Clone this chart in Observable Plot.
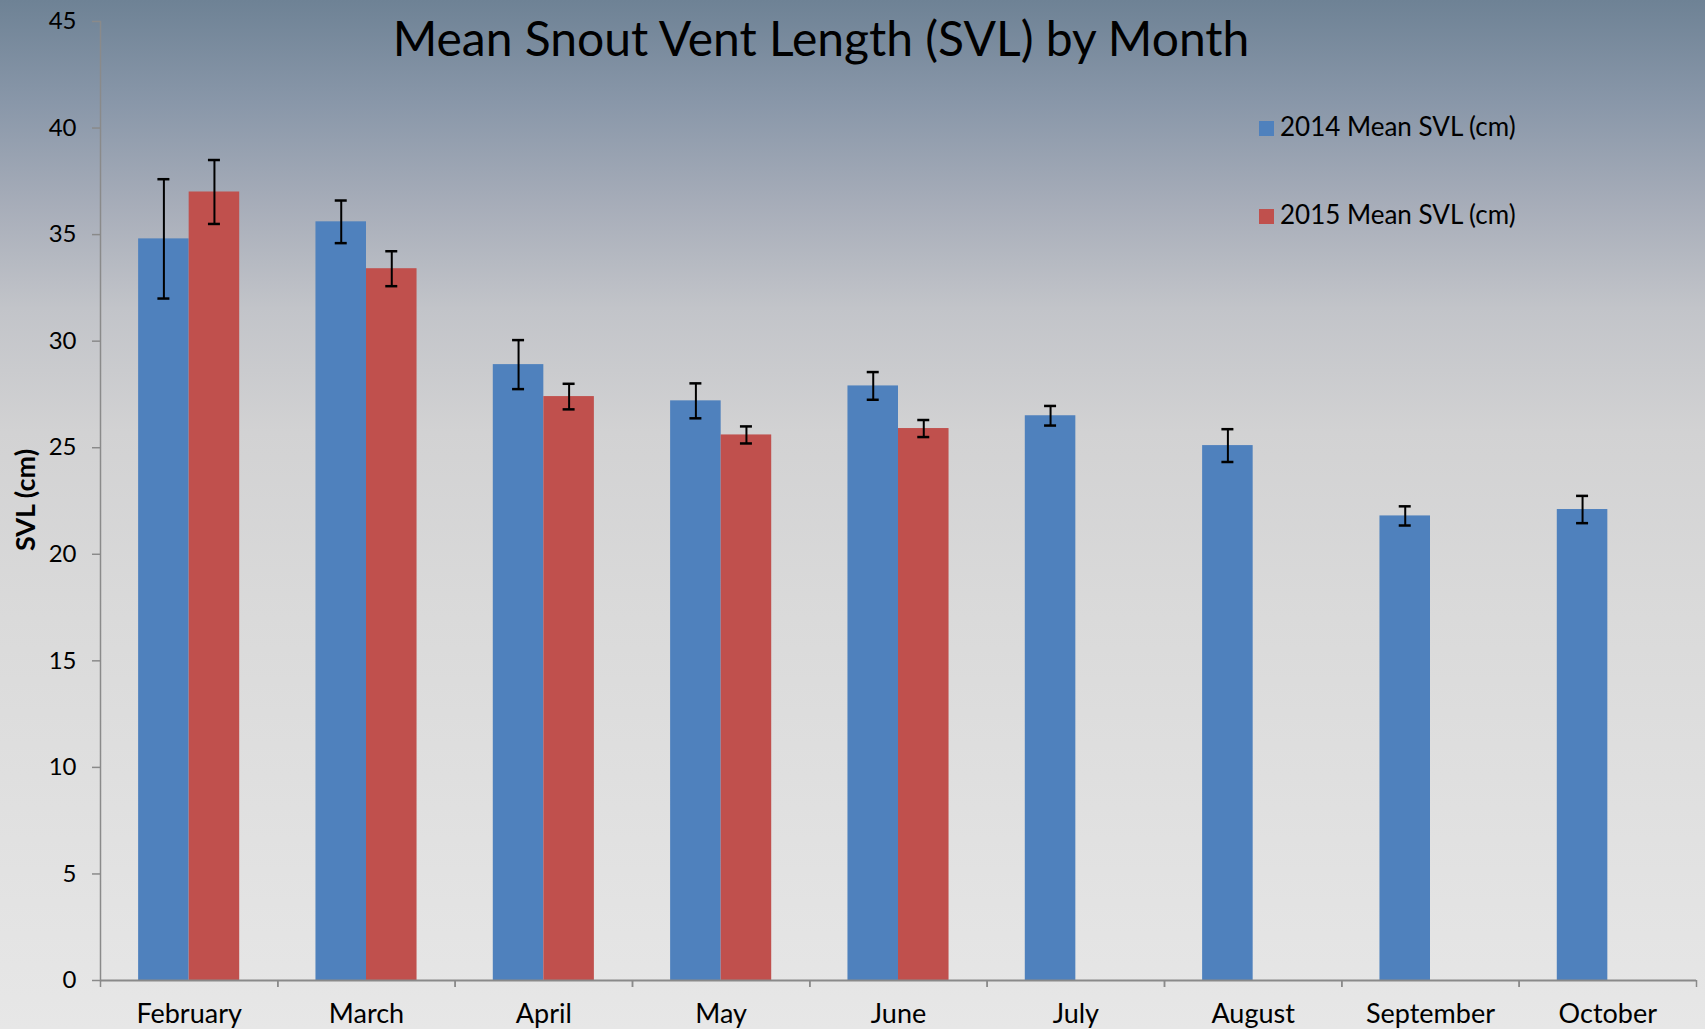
<!DOCTYPE html>
<html><head><meta charset="utf-8">
<script src="https://cdn.jsdelivr.net/npm/d3@7"></script>
<script src="https://cdn.jsdelivr.net/npm/@observablehq/plot@0.6"></script>
<style>
html,body{margin:0;padding:0;}
#wrap{position:relative;width:1705px;height:1029px;overflow:hidden;
  background:linear-gradient(to bottom,#6e8295 0%,#8997a9 10%,#a7adb9 20%,#c2c4c9 30%,#d2d2d3 42%,#dadada 60%,#e7e7e7 100%);
  font-family:Lato,sans-serif;}
#chart{position:absolute;left:0;top:0;}
#overlay{position:absolute;left:0;top:0;}
</style></head><body>
<div id="wrap"><div id="chart"></div><svg id="overlay" width="1705" height="1029"></svg></div>
<script>
const months = ["February","March","April","May","June","July","August","September","October"];
const svl2014 = [34.8, 35.6, 28.9, 27.2, 27.9, 26.5, 25.1, 21.8, 22.1];
const err2014 = [2.8, 1.0, 1.15, 0.82, 0.65, 0.46, 0.77, 0.45, 0.64];
const months2015 = ["February","March","April","May","June"];
const svl2015 = [37.0, 33.4, 27.4, 25.6, 25.9];
const err2015 = [1.5, 0.82, 0.6, 0.4, 0.4];
const yTicks = [0,5,10,15,20,25,30,35,40,45];
const seriesNames = ["2014 Mean SVL (cm)","2015 Mean SVL (cm)"];
const seriesColors = ["#4f81bd","#c0504d"];
const titleText = "Mean Snout Vent Length (SVL) by Month";
const yLabel = "SVL (cm)";

const rows2014 = months.map((m,i)=>({month:m, value:svl2014[i], err:err2014[i]}));
const rows2015 = months2015.map((m,i)=>({month:m, value:svl2015[i], err:err2015[i]}));

const W = 1705, H = 1029, ML = 100, MR = 9, MT = 21, MB = 49;
const step = (W - ML - MR) / months.length;
const bw = step * 0.285;
const capW = 12;

const chart = Plot.plot({
  width: W, height: H,
  marginLeft: ML, marginRight: MR, marginTop: MT, marginBottom: MB,
  style: {background: "transparent", fontFamily: "Lato, sans-serif", color: "#000", overflow: "visible"},
  x: {domain: months, padding: 0, round: false, axis: null},
  y: {domain: [0, 45], axis: null},
  marks: [
    Plot.barY(rows2014, {x: "month", y: "value", fill: seriesColors[0], insetLeft: step/2 - bw, insetRight: step/2}),
    Plot.barY(rows2015, {x: "month", y: "value", fill: seriesColors[1], insetLeft: step/2, insetRight: step/2 - bw}),
    Plot.ruleX(rows2014, {x: "month", y1: d => d.value - d.err, y2: d => d.value + d.err, dx: -bw/2, stroke: "#000", strokeWidth: 2}),
    Plot.ruleX(rows2015, {x: "month", y1: d => d.value - d.err, y2: d => d.value + d.err, dx: bw/2, stroke: "#000", strokeWidth: 2}),
    Plot.tickY(rows2014, {x: "month", y: d => d.value + d.err, insetLeft: step/2 - bw/2 - capW/2, insetRight: step/2 + bw/2 - capW/2, stroke: "#000", strokeWidth: 2.5}),
    Plot.tickY(rows2014, {x: "month", y: d => d.value - d.err, insetLeft: step/2 - bw/2 - capW/2, insetRight: step/2 + bw/2 - capW/2, stroke: "#000", strokeWidth: 2.5}),
    Plot.tickY(rows2015, {x: "month", y: d => d.value + d.err, insetLeft: step/2 + bw/2 - capW/2, insetRight: step/2 - bw/2 - capW/2, stroke: "#000", strokeWidth: 2.5}),
    Plot.tickY(rows2015, {x: "month", y: d => d.value - d.err, insetLeft: step/2 + bw/2 - capW/2, insetRight: step/2 - bw/2 - capW/2, stroke: "#000", strokeWidth: 2.5}),
    Plot.frame({anchor: "left", stroke: "#8a8a8a", strokeWidth: 1.5}),
    Plot.ruleY([0], {stroke: "#8a8a8a", strokeWidth: 2}),
    Plot.axisY({ticks: yTicks, tickSize: 8, tickPadding: 16, fontSize: 24, label: null, stroke: "#8a8a8a", strokeWidth: 1.5}),
    Plot.axisX({tickSize: 0, tickPadding: 23, fontSize: 27, label: null}),
    Plot.axisX({tickSize: 7, text: null, dx: -step/2, stroke: "#8a8a8a", strokeWidth: 1.5, label: null}),
    Plot.axisX({tickSize: 7, text: null, dx: step/2, stroke: "#8a8a8a", strokeWidth: 1.5, label: null})
  ]
});
document.getElementById("chart").append(chart);

const ov = d3.select("#overlay").style("font-family", "Lato, sans-serif");
ov.append("text").attr("x", 821).attr("y", 56).attr("text-anchor", "middle")
  .attr("font-size", 48).attr("fill", "#000").text(titleText);
ov.append("text").attr("transform", "translate(35,500) rotate(-90)").attr("text-anchor", "middle")
  .attr("font-size", 27).attr("font-weight", "bold").attr("fill", "#000").text(yLabel);
const lg = ov.append("g");
seriesNames.forEach((name, i) => {
  const by = 136 + i * 88;
  lg.append("rect").attr("x", 1259).attr("y", by - 15).attr("width", 15).attr("height", 15).attr("fill", seriesColors[i]);
  lg.append("text").attr("x", 1280).attr("y", by).attr("font-size", 26).attr("fill", "#000").text(name);
});
</script>
</body></html>
